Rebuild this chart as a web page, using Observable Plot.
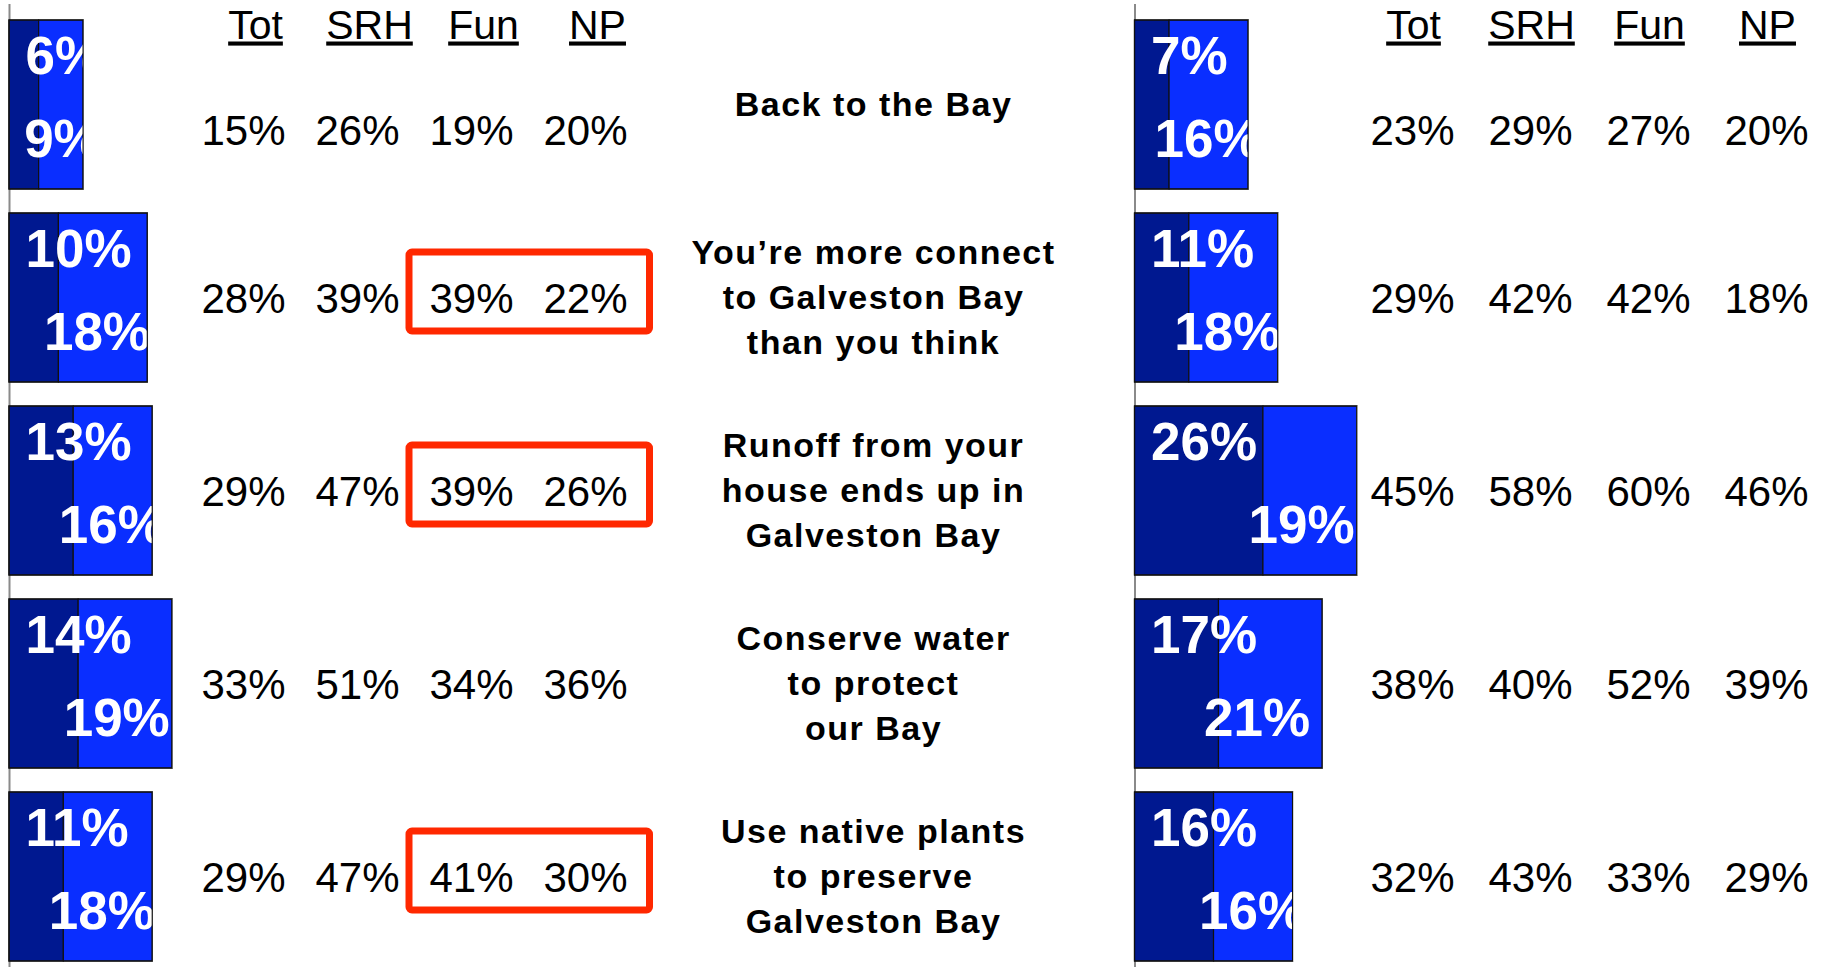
<!DOCTYPE html>
<html>
<head>
<meta charset="utf-8">
<script src="https://cdn.jsdelivr.net/npm/d3@7"></script>
<script src="https://cdn.jsdelivr.net/npm/@observablehq/plot@0.6"></script>
<style>
  html, body { margin: 0; padding: 0; background: #fff; overflow: hidden; }
  #chart { position: relative; width: 1830px; height: 967px; }
  #chart svg { position: absolute; left: 0; top: 0; background: transparent; }
  g[aria-description="column header"] text { text-decoration: underline; text-decoration-thickness: 3px; text-underline-offset: 4px; }
  g[aria-description="category label"] text { letter-spacing: 1.5px; }
</style>
</head>
<body>
<div id="chart"></div>
<script>
// ---------- data ----------
const categories = [
  "Back to the Bay",
  "You’re more connect\nto Galveston Bay\nthan you think",
  "Runoff from your\nhouse ends up in\nGalveston Bay",
  "Conserve water\nto protect\nour Bay",
  "Use native plants\nto preserve\nGalveston Bay"
];
const columns = ["Tot", "SRH", "Fun", "NP"];

// left panel
const leftDark  = [6, 10, 13, 14, 11];
const leftLight = [9, 18, 16, 19, 18];
const leftTot = [15, 28, 29, 33, 29];
const leftSRH = [26, 39, 47, 51, 47];
const leftFun = [19, 39, 39, 34, 41];
const leftNP  = [20, 22, 26, 36, 30];
const leftHighlight = [false, true, true, false, true]; // Fun + NP boxed

// right panel
const rightDark  = [7, 11, 26, 17, 16];
const rightLight = [16, 18, 19, 21, 16];
const rightTot = [23, 29, 45, 38, 32];
const rightSRH = [29, 42, 58, 40, 43];
const rightFun = [27, 42, 60, 52, 33];
const rightNP  = [20, 18, 46, 39, 29];
const rightHighlight = [false, false, false, false, false];

// ---------- styling / layout ----------
const W = 1830, H = 967;
const PX_PER_PCT = 4.94;
const DARK = "#001890", LIGHT = "#0a2eff", BOX = "#ff2800";
const FONT = "'Liberation Sans', Arial, Helvetica, sans-serif";
const yScale = {type: "band", domain: categories, range: [17.5, 963], paddingInner: 0.125, paddingOuter: 0, axis: null};
const baseStyle = {fontFamily: FONT, background: "transparent", overflow: "visible"};

function barsPlot(xStart, dark, light) {
  const rows = categories.map((c, i) => ({cat: c, dark: dark[i], light: light[i], total: dark[i] + light[i]}));
  const segs = rows.flatMap(r => [
    {cat: r.cat, seg: "dark", value: r.dark},
    {cat: r.cat, seg: "light", value: r.light}
  ]);
  const label = {y: "cat", textAnchor: "start", lineAnchor: "bottom", fill: "white", fontWeight: "bold", fontSize: 53};
  return Plot.plot({
    width: W, height: H,
    marginTop: 4, marginBottom: 0, marginLeft: 0, marginRight: 0,
    x: {type: "linear", domain: [0, 100], range: [xStart, xStart + 100 * PX_PER_PCT], axis: null},
    y: yScale,
    color: {domain: ["dark", "light"], range: [DARK, LIGHT]},
    style: baseStyle,
    marks: [
      Plot.ruleX([0], {stroke: "#8a8a8a", strokeWidth: 2}),
      Plot.barX(segs, {x: "value", y: "cat", fill: "seg", stroke: "#111", strokeWidth: 1.2}),
      Plot.text(rows, {...label, x: 0, text: d => d.dark + "%", dx: 16, dy: -31}),
      Plot.text(rows, {...label, x: "dark", text: d => d.light + "%", dx: -15, dy: 52}),
      // white mask so labels are cut at the bar end, then the outer bar border
      Plot.barX(rows, {x1: "total", x2: d => d.total + 5, y: "cat", fill: "white"}),
      Plot.barX(rows, {x1: 0, x2: "total", y: "cat", fill: "none", stroke: "#111", strokeWidth: 1.2})
    ]
  });
}

function colsPlot(range, valueArrays, highlight, headerDx) {
  const cells = categories.flatMap((c, i) => columns.map((col, j) => ({cat: c, row: i, col, v: valueArrays[j][i]})));
  const boxed = categories.map((c, i) => ({cat: c, on: highlight[i]})).filter(d => d.on);
  const val = {x: "col", y: "cat", text: d => d.v + "%", lineAnchor: "bottom", fontSize: 42, fill: "black"};
  return Plot.plot({
    width: W, height: H,
    marginTop: 0, marginBottom: 0, marginLeft: 0, marginRight: 0,
    x: {type: "point", domain: columns, range, padding: 0, axis: null},
    y: yScale,
    style: baseStyle,
    marks: [
      Plot.text(columns, {x: d => d, text: d => d, frameAnchor: "top", lineAnchor: "bottom", dy: 38, dx: headerDx, fontSize: 41, fill: "black", ariaDescription: "column header"}),
      Plot.text(cells.filter(d => d.row === 0), {...val, dy: 40}),
      Plot.text(cells.filter(d => d.row > 0), {...val, dy: 15}),
      Plot.barX(boxed, {x1: () => "Fun", x2: () => "NP", y: "cat", fill: "none", stroke: BOX, strokeWidth: 7, rx: 3,
        insetLeft: -62, insetRight: -64.5, insetTop: 39, insetBottom: 51})
    ]
  });
}

function labelsPlot() {
  return Plot.plot({
    width: W, height: H,
    marginTop: 0, marginBottom: 0, marginLeft: 0, marginRight: W - 2 * 873,
    y: yScale,
    style: baseStyle,
    marks: [
      Plot.text(categories, {y: d => d, text: d => d, fontWeight: "bold", fontSize: 34, lineHeight: 1.32, dy: -3, fill: "black", ariaDescription: "category label"})
    ]
  });
}

const chart = document.getElementById("chart");
chart.append(
  barsPlot(9, leftDark, leftLight),
  barsPlot(1134.5, rightDark, rightLight),
  colsPlot([242, 585], [leftTot, leftSRH, leftFun, leftNP], leftHighlight, 12),
  colsPlot([1412, 1766], [rightTot, rightSRH, rightFun, rightNP], rightHighlight, 1),
  labelsPlot()
);
</script>
</body>
</html>
